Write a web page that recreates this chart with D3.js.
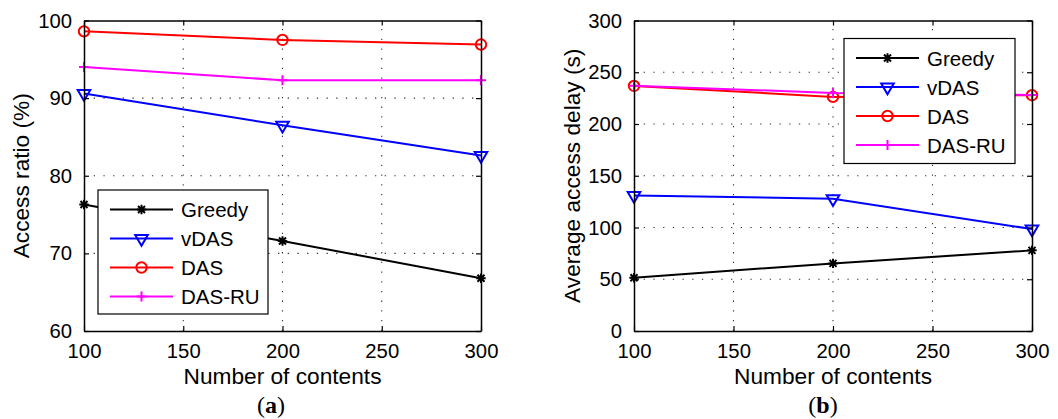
<!DOCTYPE html>
<html>
<head>
<meta charset="utf-8">
<script src="https://cdn.jsdelivr.net/npm/d3@7"></script>
<style>
  body { margin: 0; background: #fff; }
  svg text { font-family: "Liberation Sans", Arial, Helvetica, sans-serif; }
</style>
</head>
<body>
<div id="chart"></div>
<script>
// data
var contents = [100, 200, 300];
var seriesNames = ["Greedy", "vDAS", "DAS", "DAS-RU"];
var seriesColors = ["#000000", "#0000ff", "#ff0000", "#ff00ff"];
var seriesMarkers = ["star", "tri", "circle", "plus"];

// panel (a): access ratio (%)
var ratioGreedy = [76.3, 71.6, 66.8];
var ratioVDAS = [90.6, 86.5, 82.6];
var ratioDAS = [98.6, 97.5, 96.9];
var ratioDASRU = [94.0, 92.3, 92.3];

// panel (b): average access delay (s)
var delayGreedy = [51.5, 65.3, 77.9];
var delayVDAS = [131, 127.8, 98.5];
var delayDAS = [236.8, 226.2, 227.8];
var delayDASRU = [237, 230, 228];

var xTicks = [100, 150, 200, 250, 300];
var ratioTicks = [60, 70, 80, 90, 100];
var delayTicks = [0, 50, 100, 150, 200, 250, 300];

var svgWidth = 1058;
var svgHeight = 419;

var svg = d3.select("#chart")
  .append("svg")
  .attr("width", svgWidth)
  .attr("height", svgHeight);

// one marker shape per series
function drawMarker(g, kind, color, x, y) {
  if (kind === "circle") {
    g.append("circle").attr("cx", x).attr("cy", y).attr("r", 5.2)
      .attr("fill", "none").attr("stroke", color).attr("stroke-width", 2);
  } else if (kind === "tri") {
    g.append("path")
      .attr("d", `M${x - 6.3},${y - 3.5}L${x + 6.3},${y - 3.5}L${x},${y + 7.3}Z`)
      .attr("fill", "none").attr("stroke", color).attr("stroke-width", 2)
      .attr("stroke-linejoin", "miter");
  } else if (kind === "plus") {
    g.append("path")
      .attr("d", `M${x - 5},${y}L${x + 5},${y}M${x},${y - 5}L${x},${y + 5}`)
      .attr("stroke", color).attr("stroke-width", 2);
  } else {
    var s = 4.7, d = 3.5;
    g.append("path")
      .attr("d", `M${x - s},${y}L${x + s},${y}M${x},${y - s}L${x},${y + s}` +
        `M${x - d},${y - d}L${x + d},${y + d}M${x - d},${y + d}L${x + d},${y - d}`)
      .attr("stroke", color).attr("stroke-width", 2);
  }
}

function drawPanel(opt) {
  var left = opt.left, right = opt.right, top = 20.5, bottom = 331;
  var xScale = d3.scaleLinear().domain([100, 300]).range([left, right]);
  var yScale = d3.scaleLinear().domain(opt.yDomain).range([bottom, top]);
  var g = svg.append("g");

  // dotted grid
  var grid = g.append("g").attr("stroke", "#333").attr("stroke-width", 1.1)
    .attr("stroke-dasharray", "1.3,8.4");
  xTicks.slice(1, -1).forEach(function(t) {
    grid.append("line").attr("x1", xScale(t)).attr("x2", xScale(t))
      .attr("y1", bottom).attr("y2", top);
  });
  opt.yTicks.slice(1, -1).forEach(function(t) {
    grid.append("line").attr("x1", left).attr("x2", right)
      .attr("y1", yScale(t)).attr("y2", yScale(t));
  });

  // series
  var line = d3.line().x(function(d, i) { return xScale(contents[i]); })
    .y(function(d) { return yScale(d); });
  opt.series.forEach(function(vals, k) {
    g.append("path").datum(vals).attr("d", line)
      .attr("fill", "none").attr("stroke", seriesColors[k]).attr("stroke-width", 2);
    vals.forEach(function(v, i) {
      drawMarker(g, seriesMarkers[k], seriesColors[k], xScale(contents[i]), yScale(v));
    });
  });

  // axes (ticks inside, like matlab)
  var bottomAxis = d3.axisBottom(xScale).tickValues(xTicks).tickSizeInner(-5).tickSizeOuter(0).tickPadding(13);
  var topAxis = d3.axisTop(xScale).tickValues(xTicks).tickSizeInner(-5).tickSizeOuter(0).tickFormat("");
  var leftAxis = d3.axisLeft(yScale).tickValues(opt.yTicks).tickSizeInner(-5).tickSizeOuter(0).tickPadding(12);
  var rightAxis = d3.axisRight(yScale).tickValues(opt.yTicks).tickSizeInner(-5).tickSizeOuter(0).tickFormat("");

  var axes = [
    g.append("g").attr("transform", `translate(0,${bottom})`).call(bottomAxis),
    g.append("g").attr("transform", `translate(0,${top})`).call(topAxis),
    g.append("g").attr("transform", `translate(${left},0)`).call(leftAxis),
    g.append("g").attr("transform", `translate(${right},0)`).call(rightAxis)
  ];
  axes.forEach(function(a) {
    a.select(".domain").attr("stroke", "#000").attr("stroke-width", 1.5);
    a.selectAll(".tick line").attr("stroke", "#000").attr("stroke-width", 1.2);
    a.selectAll(".tick text").attr("fill", "#000").attr("font-size", 20.3)
      .attr("font-family", "Liberation Sans, Arial, sans-serif");
  });

  // axis titles
  g.append("text")
    .attr("x", (left + right) / 2).attr("y", 384)
    .attr("text-anchor", "middle").attr("font-size", 22.7)
    .text("Number of contents");
  g.append("text")
    .attr("transform", `translate(${opt.yTitleX},${(top + bottom) / 2}) rotate(-90)`)
    .attr("text-anchor", "middle").attr("font-size", 22.7)
    .text(opt.yTitle);

  // legend
  var lg = g.append("g");
  lg.append("rect").attr("x", opt.legend.x).attr("y", opt.legend.y)
    .attr("width", opt.legend.w).attr("height", opt.legend.h)
    .attr("fill", "#fff").attr("stroke", "#000").attr("stroke-width", 1.2);
  seriesNames.forEach(function(name, k) {
    var ly = opt.legend.y + 19.5 + k * 29;
    var lx = opt.legend.x + 12;
    lg.append("line").attr("x1", lx).attr("x2", lx + 63)
      .attr("y1", ly).attr("y2", ly)
      .attr("stroke", seriesColors[k]).attr("stroke-width", 2);
    drawMarker(lg, seriesMarkers[k], seriesColors[k], lx + 31.5, ly);
    lg.append("text").attr("x", lx + 71).attr("y", ly + 7.5)
      .attr("font-size", 20.5).text(name);
  });

  // panel letter
  var lab = g.append("text")
    .attr("x", opt.labelX).attr("y", 413)
    .attr("text-anchor", "middle").attr("font-size", 24)
    .style("font-family", "'Liberation Serif', 'DejaVu Serif', serif");
  lab.append("tspan").text("(");
  lab.append("tspan").attr("font-weight", "bold").text(opt.label);
  lab.append("tspan").text(")");
}

drawPanel({
  left: 84, right: 481,
  yDomain: [60, 100], yTicks: ratioTicks,
  series: [ratioGreedy, ratioVDAS, ratioDAS, ratioDASRU],
  yTitle: "Access ratio (%)", yTitleX: 28.5,
  legend: { x: 98, y: 190, w: 170, h: 124 },
  label: "a", labelX: 271
});

drawPanel({
  left: 634, right: 1032,
  yDomain: [0, 300], yTicks: delayTicks,
  series: [delayGreedy, delayVDAS, delayDAS, delayDASRU],
  yTitle: "Average access delay (s)", yTitleX: 580,
  legend: { x: 844, y: 38.5, w: 171, h: 125 },
  label: "b", labelX: 823
});
</script>
</body>
</html>
